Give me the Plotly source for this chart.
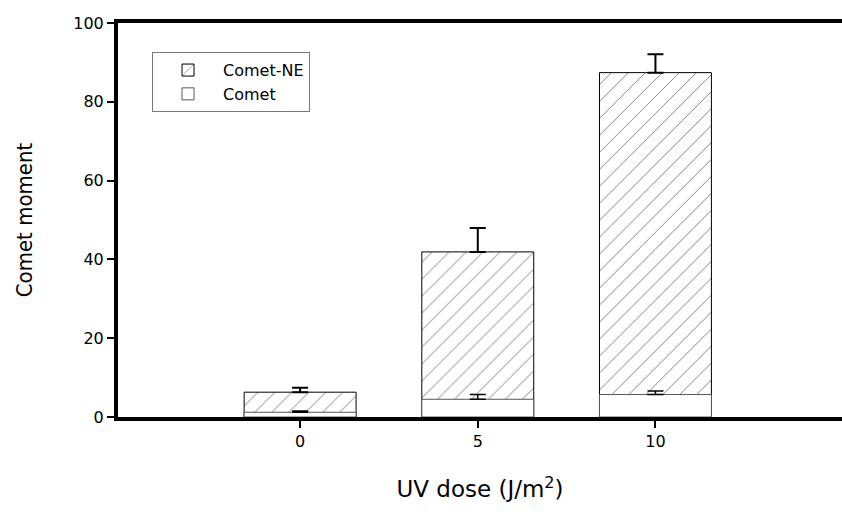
import plotly.graph_objects as go

# UV dose groups (J/m^2)
doses = ["0", "5", "10"]

# Comet moment values (means) and upper error (SD)
comet_ne = [6.3, 41.9, 87.4]
comet_ne_err = [1.1, 6.1, 4.7]
comet = [1.2, 4.5, 5.7]
comet_err = [0.3, 1.2, 0.9]

fig = go.Figure()

fig.add_trace(go.Bar(
    x=doses, y=comet_ne, name="Comet-NE", width=0.63,
    marker=dict(color="white", line=dict(color="black", width=1),
                pattern=dict(shape="/", fgcolor="black", bgcolor="white",
                             size=12, solidity=0.08)),
    error_y=dict(type="data", array=comet_ne_err, symmetric=False,
                 arrayminus=[0, 0, 0], color="black", thickness=2, width=8),
))
fig.add_trace(go.Bar(
    x=doses, y=comet, name="Comet", width=0.63,
    marker=dict(color="white", line=dict(color="#555555", width=1)),
    error_y=dict(type="data", array=comet_err, symmetric=False,
                 arrayminus=[0, 0, 0], color="black", thickness=1.5, width=8),
))

font_main = "DejaVu Sans, Liberation Sans, sans-serif"
font_narrow = "DejaVu Sans Condensed, Liberation Sans Narrow, Arial Narrow, Liberation Sans, sans-serif"

fig.update_layout(
    width=842, height=514,
    margin=dict(l=118, r=0, t=23, b=97),
    barmode="overlay",
    paper_bgcolor="white", plot_bgcolor="white",
    showlegend=True,
    legend=dict(
        x=0.047, y=0.926, xanchor="left", yanchor="top",
        bordercolor="#777777", borderwidth=1, bgcolor="white",
        traceorder="normal",
        font=dict(family=font_main, size=16, color="black"),
        itemwidth=60, tracegroupgap=0,
    ),
    xaxis=dict(
        type="category", range=[-1.025, 3.05],
        showline=True, linecolor="black", linewidth=4, mirror=True,
        ticks="outside", ticklen=7, tickwidth=1.5, tickcolor="black",
        showgrid=False, zeroline=False,
        tickfont=dict(family=font_main, size=16, color="black"),
        title=dict(text="UV dose (J/m<sup>2</sup>)", standoff=32,
                   font=dict(family=font_main, size=23, color="black")),
    ),
    yaxis=dict(
        range=[0, 100], tickvals=[0, 20, 40, 60, 80, 100],
        showline=True, linecolor="black", linewidth=4,
        ticks="outside", ticklen=7, tickwidth=1.5, tickcolor="black",
        showgrid=False, zeroline=False,
        tickfont=dict(family=font_main, size=16, color="black"),
        title=dict(text="Comet moment", standoff=36,
                   font=dict(family=font_narrow, size=22, color="black")),
    ),
)

fig.write_html("out.html")
